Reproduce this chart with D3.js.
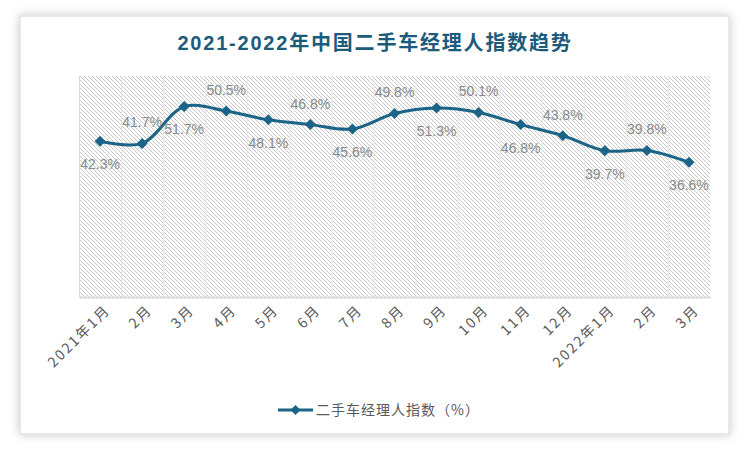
<!DOCTYPE html>
<html>
<head>
<meta charset="utf-8">
<script src="https://cdn.jsdelivr.net/npm/d3@7"></script>
<style>
  html, body { margin: 0; padding: 0; background: #ffffff; }
  svg { display: block; }
</style>
</head>
<body>
<svg id="chart" width="750" height="452"></svg>
<script>
// ---- data ----
const categories = ["2021年1月", "2月", "3月", "4月", "5月", "6月", "7月", "8月", "9月", "10月", "11月", "12月", "2022年1月", "2月", "3月"];
const values = [42.3, 41.7, 51.7, 50.5, 48.1, 46.8, 45.6, 49.8, 51.3, 50.1, 46.8, 43.8, 39.7, 39.8, 36.6];
const seriesName = "二手车经理人指数（%）";
const title = "2021-2022年中国二手车经理人指数趋势";
const yDomain = [0, 60];

// ---- layout ----
const W = 750, H = 452;
const plot = { left: 79, right: 710, top: 76, bottom: 297 };
const lineColor = "#1b6488";
const labelFont = "'Liberation Sans Narrow', 'Liberation Sans', Arial, sans-serif";
const cjkFont = "'Liberation Sans Narrow', 'Noto Sans CJK SC', sans-serif";

const svg = d3.select("#chart");
const defs = svg.append("defs");

// shadow for the card
const f = defs.append("filter").attr("id", "shadow").attr("x", "-10%").attr("y", "-10%").attr("width", "120%").attr("height", "120%");
f.append("feGaussianBlur").attr("in", "SourceAlpha").attr("stdDeviation", 5).attr("result", "blur");
f.append("feFlood").attr("flood-color", "#000").attr("flood-opacity", 0.22).attr("result", "c");
f.append("feComposite").attr("in", "c").attr("in2", "blur").attr("operator", "in").attr("result", "s");
const fm = f.append("feMerge");
fm.append("feMergeNode").attr("in", "s");
fm.append("feMergeNode").attr("in", "SourceGraphic");

// hatch pattern
const pat = defs.append("pattern").attr("id", "hatch").attr("patternUnits", "userSpaceOnUse")
  .attr("width", 4).attr("height", 4);
pat.append("rect").attr("width", 4).attr("height", 4).attr("fill", "#ffffff");
pat.append("path").attr("d", "M-1,-1 L5,5 M-1,3 L1,5 M3,-1 L5,1")
  .attr("stroke", "#c8c8c8").attr("stroke-width", 1);

// card
svg.append("rect").attr("x", 20).attr("y", 16).attr("width", 709).attr("height", 418)
  .attr("fill", "#ffffff").attr("stroke", "#e2e2e2").attr("stroke-width", 1.5)
  .attr("filter", "url(#shadow)");

// title
svg.append("text").attr("x", 375).attr("y", 50).attr("text-anchor", "middle")
  .attr("font-family", "'Liberation Sans', 'Noto Sans CJK SC', sans-serif")
  .attr("font-size", 20).attr("font-weight", "bold").attr("letter-spacing", 1.8)
  .attr("fill", "#1d5b7c").text(title);

// scales
const x = d3.scaleBand().domain(d3.range(categories.length)).range([plot.left, plot.right]).paddingInner(0).paddingOuter(0);
const cx = i => x(i) + x.bandwidth() / 2;
const y = d3.scaleLinear().domain(yDomain).range([plot.bottom, plot.top]);

// plot background
svg.append("rect").attr("x", plot.left).attr("y", plot.top)
  .attr("width", plot.right - plot.left).attr("height", plot.bottom - plot.top)
  .attr("fill", "url(#hatch)");

// vertical gridlines at category boundaries
svg.append("g").selectAll("line").data(d3.range(1, categories.length)).join("line")
  .attr("x1", i => x(i) + 0.5).attr("x2", i => x(i) + 0.5)
  .attr("y1", plot.top).attr("y2", plot.bottom)
  .attr("stroke", "#e6e6e6").attr("stroke-width", 1);

// left border
svg.append("line").attr("x1", plot.left + 0.5).attr("x2", plot.left + 0.5)
  .attr("y1", plot.top).attr("y2", plot.bottom).attr("stroke", "#d9d9d9").attr("stroke-width", 1);

// x axis
const xAxis = d3.axisBottom(x).tickSize(0).tickFormat(i => categories[i]);
const gx = svg.append("g").attr("transform", `translate(0,${plot.bottom})`).call(xAxis);
gx.select(".domain").attr("stroke", "#d9d9d9").attr("stroke-width", 2);
gx.selectAll(".tick text")
  .attr("font-family", cjkFont).attr("font-size", 14).attr("letter-spacing", 2).attr("fill", "#595959")
  .attr("text-anchor", "end")
  .attr("dy", null).attr("y", 0)
  .attr("transform", "translate(11,14) rotate(-45)");

// line
const line = d3.line().x((d, i) => cx(i)).y(d => y(d)).curve(d3.curveCatmullRom.alpha(0.5));
svg.append("path").datum(values).attr("d", line)
  .attr("fill", "none").attr("stroke", lineColor).attr("stroke-width", 3)
  .attr("stroke-linejoin", "round");

// markers
const diamond = (s) => `M0,${-s} L${s},0 L0,${s} L${-s},0 Z`;
svg.append("g").selectAll("path").data(values).join("path")
  .attr("transform", (d, i) => `translate(${cx(i)},${y(d)})`)
  .attr("d", diamond(5.5)).attr("fill", lineColor);

// data labels (alternating below/above)
svg.append("g").selectAll("text").data(values).join("text")
  .attr("x", (d, i) => cx(i))
  .attr("y", (d, i) => y(d) + (i % 2 === 0 ? 23 : -21))
  .attr("dy", "0.35em").attr("text-anchor", "middle")
  .attr("font-family", labelFont).attr("font-size", 14).attr("fill", "#8a8a8a")
  .text(d => d.toFixed(1) + "%");

// legend
const lg = svg.append("g").attr("transform", "translate(278,410)");
lg.append("line").attr("x1", 0).attr("x2", 35).attr("y1", 0).attr("y2", 0)
  .attr("stroke", lineColor).attr("stroke-width", 3);
lg.append("path").attr("transform", "translate(17.5,0)").attr("d", diamond(5)).attr("fill", lineColor);
lg.append("text").attr("x", 38).attr("y", 0).attr("dy", "0.35em")
  .attr("font-family", "'Noto Sans CJK SC', sans-serif").attr("font-size", 14).attr("letter-spacing", 1)
  .attr("fill", "#595959").text(seriesName);
</script>
</body>
</html>
